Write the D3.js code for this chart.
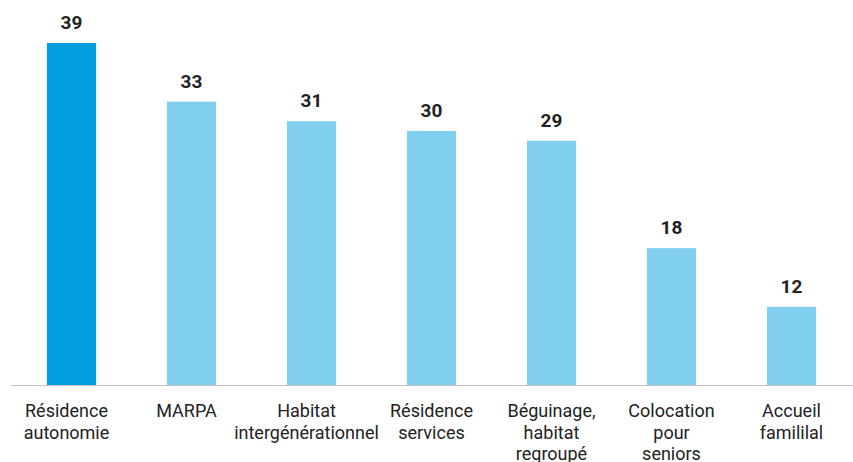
<!DOCTYPE html>
<html><head><meta charset="utf-8">
<script src="https://cdn.jsdelivr.net/npm/d3@7"></script>
<style>body{margin:0;background:#fff}svg{display:block}</style>
</head><body>
<svg id="c" width="853" height="462"></svg>
<script>
const categories = [["Résidence","autonomie"],["MARPA"],["Habitat","intergénérationnel"],["Résidence","services"],["Béguinage,","habitat","regroupé"],["Colocation","pour","seniors"],["Accueil","famililal"]];
const values = [39,33,31,30,29,18,12];
const highlight = [true,false,false,false,false,false,false];

const svg = d3.select("#c");
const x = d3.scaleBand().domain(d3.range(values.length)).range([11.5, 851.5]).paddingInner(0.59).paddingOuter(0.295);
const y = d3.scaleLinear().domain([4, 39]).range([385, 43]);

svg.append("g").selectAll("rect").data(values).join("rect")
  .attr("x", (d,i)=>x(i)).attr("width", x.bandwidth())
  .attr("y", d=>y(d)).attr("height", d=>y(4)-y(d))
  .attr("fill", (d,i)=>highlight[i] ? "#009ee0" : "#80cfef");

svg.append("line").attr("x1",11).attr("x2",853).attr("y1",385.5).attr("y2",385.5)
  .attr("stroke","#bfbfbf").attr("stroke-width",1);

svg.append("g").selectAll("text").data(values).join("text")
  .attr("x",(d,i)=>x(i)+x.bandwidth()/2).attr("y",d=>y(d)-14)
  .attr("text-anchor","middle").attr("font-family","Roboto").attr("font-weight","bold")
  .attr("font-size",19).attr("fill","#222").text(d=>d);

const lab = svg.append("g").selectAll("text").data(categories).join("text")
  .attr("y",417)
  .attr("text-anchor","middle").attr("font-family","Roboto")
  .attr("font-size",18).attr("fill","#222");
lab.each(function(d,i){
  const t = d3.select(this);
  const cx = x(i)+x.bandwidth()/2 - (i<3 ? 5 : 0);
  d.forEach((s,j)=>t.append("tspan").attr("x",cx).attr("dy", j===0?0:21.5).text(s));
});
</script>
</body></html>
